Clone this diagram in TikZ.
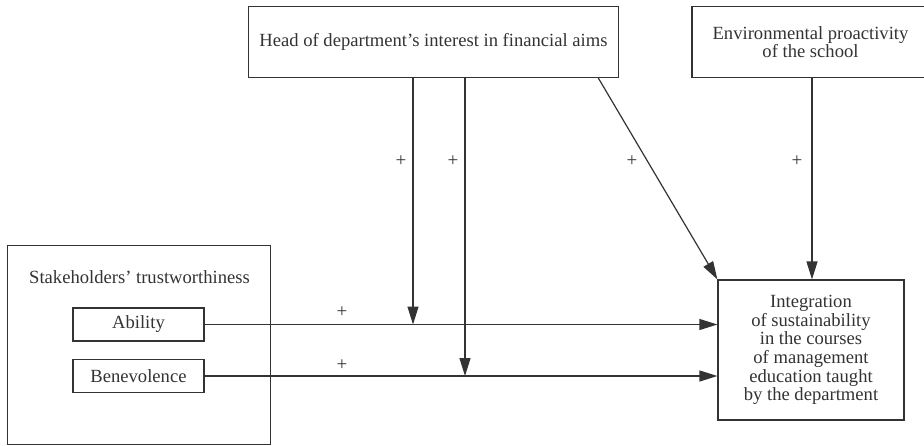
\documentclass[tikz,border=0pt]{standalone}
\usepackage{fontspec}
\setmainfont{Liberation Serif}
\usetikzlibrary{arrows.meta}
\definecolor{ink}{HTML}{333333}
\tikzset{
  txt/.style={text=ink, font=\fontsize{18.6}{18.7}\selectfont},
  box/.style={txt, draw=ink, line width=1.2pt, inner sep=0pt},
  conn/.style={draw=ink, line width=1.2pt},
  arr/.style={conn, -{Triangle[length=18pt,width=11pt]}},
  plus/.style={text=ink, font=\fontsize{19}{19}\selectfont, inner sep=0pt}
}
\begin{document}
\begin{tikzpicture}[x=1pt,y=-1pt]
\useasboundingbox (0,0) rectangle (924,445);
% boxes
\node[box, minimum width=370pt, minimum height=71pt] (head) at (433.5,42) {Head of department’s interest in financial aims};
\node[box, minimum width=237pt, minimum height=71pt, align=center] (env) at (810.5,42) {Environmental proactivity\\of the school};
\node[box, minimum width=263pt, minimum height=199pt, anchor=north west] (stake) at (7,245) {};
\node[txt, inner sep=0pt, anchor=west] (stakelbl) at (29,277) {Stakeholders’ trustworthiness};
\node[box, minimum width=131pt, minimum height=33pt] (ability) at (138.5,324.5) {Ability};
\node[box, minimum width=131pt, minimum height=33pt] (benev) at (138.5,376) {Benevolence};
\node[box, minimum width=186pt, minimum height=140pt, align=center] (target) at (811,350) {Integration\\of sustainability\\in the courses\\of management\\education taught\\by the department};
% connectors
\draw[arr] (ability.east) -- (ability.east -| target.west);
\draw[arr] (benev.east) -- (benev.east -| target.west);
\coordinate (m1) at (413,324.5);
\coordinate (m2) at (465,376);
\draw[arr] (head.south -| m1) -- (m1);
\draw[arr] (head.south -| m2) -- (m2);
\coordinate (d) at (598,77.5);
\draw[arr] (d) -- (target.north west);
\draw[arr] (env.south -| 812,0) -- (target.north -| 812,0);
% plus signs
\node[plus] (p1) at (401,161) {+};
\node[plus] (p2) at (453,161) {+};
\node[plus] (p3) at (632,161) {+};
\node[plus] (p4) at (797,161) {+};
\node[plus] (p5) at (342,312) {+};
\node[plus] (p6) at (342,365) {+};
\end{tikzpicture}
\end{document}
